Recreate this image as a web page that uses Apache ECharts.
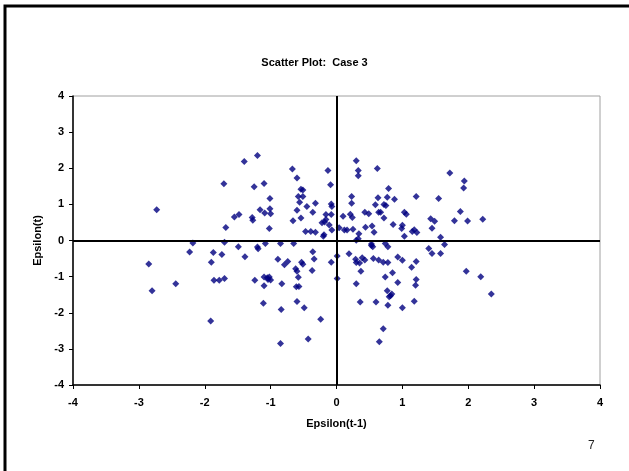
<!DOCTYPE html>
<html>
<head>
<meta charset="utf-8">
<script src="https://cdn.jsdelivr.net/npm/echarts@6/dist/echarts.min.js"></script>
<style>
  html, body { margin: 0; padding: 0; background: #fff; }
  #chart { width: 629px; height: 471px; }
</style>
</head>
<body>
<div id="chart"></div>
<script>
// Epsilon(t-1) on x, Epsilon(t) on y
var epsPrev = [
  -1.40, -1.71, -2.73, -1.55, -1.48, -1.68, -2.18, -1.70,
  -1.20, -0.67, -0.60, -0.13, -1.25, -1.10, -0.09, -0.54, -0.51, -0.58, -0.51, -1.01,
  -0.56, -0.32, -0.08, -0.07, -0.45, -1.01, -1.16, -1.09, -1.00, -0.60, -0.36, -1.28,
  -1.27, -0.54, -0.66, -0.16, -0.08, -0.16, -0.18, -0.22, -0.11, -1.02, -0.07, -0.47,
  -0.39, -0.32, -0.19, -0.20, -1.08, -0.85, -0.65,
  0.30, 0.33, 0.33, 0.62, 0.79, 0.23, 0.23, 0.63, 0.77, 0.88, 1.21, 0.59, 0.72, 0.75,
  0.43, 0.49, 0.64, 0.67, 0.72, 1.03, 1.06, 0.21, 0.24, 0.10, 0.86, 1.00, 0.99, 0.44,
  0.54, 0.57, 0.04, 0.12, 0.16, 0.25, 0.34, 0.33, 0.30, 1.03, 1.15, 1.18, 1.22, 0.53, 0.74,
  1.72, 1.94, 1.93, 1.55, 1.88, 1.43, 1.49, 1.79, 1.99, 2.22, 1.45, 1.58, 1.64,
  -1.49, -2.23, -1.87, -1.74, -1.39, -2.85, -1.90, -1.86, -1.78, -1.70, -2.44, -2.80, -1.91,
  -1.20, -1.19, -0.36, -0.89, -0.74, -0.79, -0.53, -0.51, -0.34, -0.08, -0.62, -0.60,
  -0.37, -0.58, -1.10, -1.05, -1.02, -1.00, -1.04, -1.24, -1.10, -0.83, -0.61, -0.57,
  -1.11, -0.60, -0.49, -0.84, -0.24, -0.43, -0.85, 0.01, 0.01,
  0.19, 0.29, 0.30, 0.35, 0.39, 0.43, 0.53, 0.55, 0.78, 0.56, 0.64, 0.71, 0.78, 0.93,
  1.00, 1.21, 1.14, 0.37, 0.85, 0.74, 1.21, 1.20, 0.30, 0.93, 0.77, 0.84, 0.82, 0.80,
  0.36, 0.60, 0.78, 1.00, 1.18, 0.71, 0.65,
  1.40, 1.45, 1.58, 1.97, 2.19, 2.35
];
var epsCurr = [
  2.19, 1.57, 0.85, 0.65, 0.72, 0.36, -0.07, -0.05,
  2.35, 1.98, 1.73, 1.94, 1.49, 1.58, 1.54, 1.42, 1.40, 1.22, 1.22, 1.16,
  1.06, 1.03, 1.01, 0.94, 0.94, 0.88, 0.85, 0.76, 0.74, 0.84, 0.78, 0.64,
  0.56, 0.62, 0.55, 0.72, 0.72, 0.58, 0.51, 0.49, 0.43, 0.33, 0.29, 0.25,
  0.25, 0.23, 0.16, 0.12, -0.08, -0.08, -0.08,
  2.21, 1.94, 1.79, 1.99, 1.44, 1.22, 1.03, 1.18, 1.20, 1.14, 1.22, 0.99, 1.00, 0.97,
  0.78, 0.74, 0.78, 0.78, 0.62, 0.78, 0.73, 0.73, 0.64, 0.67, 0.44, 0.42, 0.33, 0.37,
  0.40, 0.23, 0.35, 0.29, 0.29, 0.31, 0.19, 0.05, 0.01, 0.12, 0.25, 0.30, 0.22, -0.10, -0.08,
  1.87, 1.65, 1.45, 1.16, 0.80, 0.60, 0.53, 0.55, 0.54, 0.59, 0.34, 0.09, -0.11,
  -0.17, -0.32, -0.33, -0.39, -0.45, -0.65, -0.60, -1.10, -1.10, -1.05, -1.20, -1.39, -2.23,
  -0.18, -0.23, -0.31, -0.52, -0.58, -0.67, -0.60, -0.66, -0.51, -0.60, -0.78, -0.85,
  -0.83, -1.02, -1.01, -1.03, -1.01, -1.09, -1.08, -1.10, -1.25, -1.20, -1.28, -1.27,
  -1.74, -1.69, -1.86, -1.91, -2.18, -2.73, -2.85, -0.43, -1.05,
  -0.37, -0.52, -0.61, -0.62, -0.48, -0.54, -0.14, -0.17, -0.17, -0.50, -0.54, -0.60, -0.61, -0.46,
  -0.55, -0.58, -0.74, -0.85, -0.89, -1.01, -1.08, -1.24, -1.20, -1.16, -1.39, -1.48, -1.53, -1.56,
  -1.70, -1.70, -1.79, -1.86, -1.68, -2.44, -2.80,
  -0.22, -0.36, -0.36, -0.85, -1.00, -1.48
];
var axisMin = -4;
var axisMax = 4;

var points = [];
for (var i = 0; i < epsPrev.length; i++) {
  points.push([epsPrev[i], epsCurr[i]]);
}

var font = "'Liberation Sans', Arial, sans-serif";
var labelStyle = { color: '#000', fontFamily: font, fontWeight: 'bold', fontSize: 11 };

var chart = echarts.init(document.getElementById('chart'));
var option = {
  backgroundColor: '#fff',
  animation: false,
  title: {
    text: 'Scatter Plot:  Case 3',
    left: 'center',
    top: 52,
    textStyle: { color: '#000', fontFamily: font, fontWeight: 'bold', fontSize: 11 }
  },
  grid: {
    left: 73, right: 29, top: 96, bottom: 86,
    show: true, borderColor: '#a0a0a0', borderWidth: 1
  },
  xAxis: {
    type: 'value', min: axisMin, max: axisMax, interval: 1,
    name: 'Epsilon(t-1)', nameLocation: 'middle', nameGap: 33,
    nameTextStyle: labelStyle,
    axisLine: { onZero: false, lineStyle: { color: '#000', width: 1.5 } },
    axisTick: { show: true, length: 4, lineStyle: { color: '#000' } },
    axisLabel: Object.assign({ margin: 12 }, labelStyle),
    splitLine: { show: false }
  },
  yAxis: {
    type: 'value', min: axisMin, max: axisMax, interval: 1,
    name: 'Epsilon(t)', nameLocation: 'middle', nameGap: 29,
    nameTextStyle: labelStyle,
    axisLine: { onZero: false, lineStyle: { color: '#000', width: 1.5 } },
    axisTick: { show: true, length: 4, lineStyle: { color: '#000' } },
    axisLabel: Object.assign({ margin: 9 }, labelStyle),
    splitLine: { show: false }
  },
  series: [{
    type: 'scatter',
    data: points,
    symbol: 'diamond',
    symbolSize: 7,
    itemStyle: { color: '#000080' },
    markLine: {
      silent: true,
      symbol: 'none',
      label: { show: false },
      lineStyle: { color: '#000', width: 2, type: 'solid' },
      data: [{ xAxis: 0 }, { yAxis: 0 }]
    }
  }],
  graphic: [
    {
      type: 'polyline',
      shape: { points: [[5, 471], [5, 6], [629, 6]] },
      style: { stroke: '#000', lineWidth: 3, fill: null }
    },
    {
      type: 'text',
      left: 588, top: 440,
      style: { text: '7', fill: '#222', font: '12px ' + font }
    }
  ]
};
chart.setOption(option);
</script>
</body>
</html>
